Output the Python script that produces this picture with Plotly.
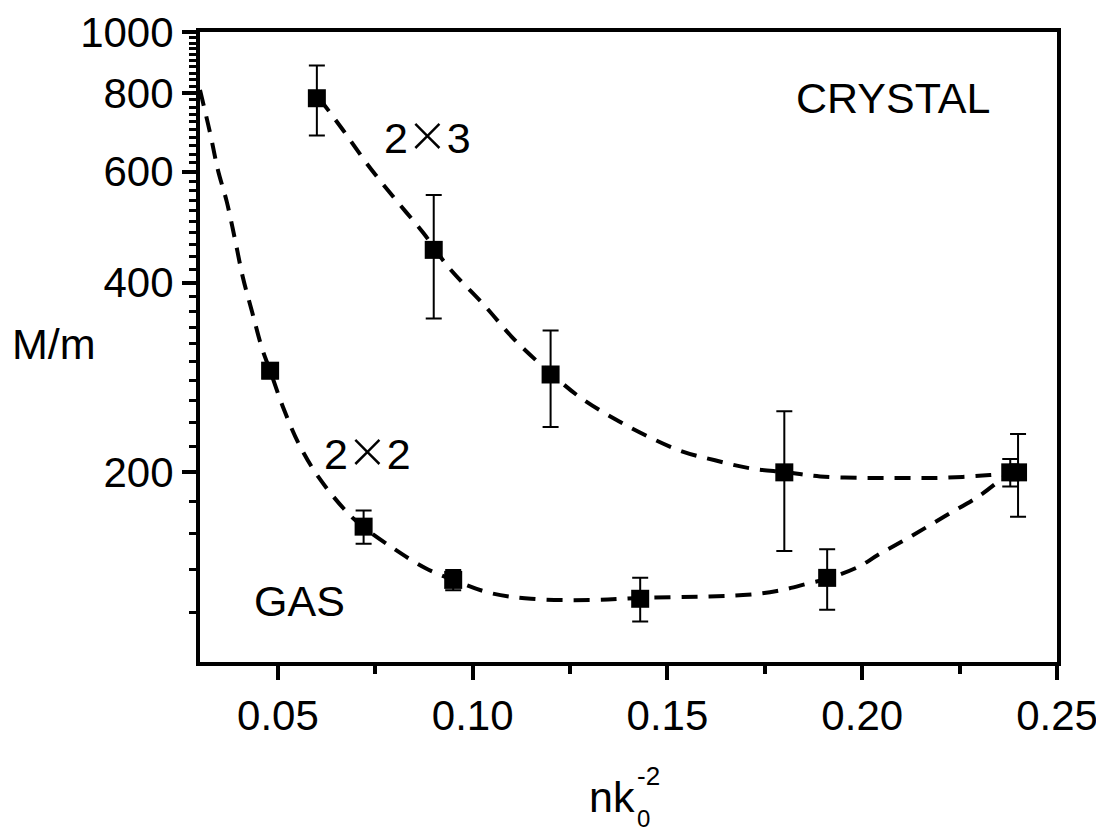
import plotly.graph_objects as go

# ---- data ----
gas_x = [0.048, 0.072, 0.095, 0.143, 0.191, 0.238]
gas_y = [290, 164, 135, 126, 136, 200]
gas_err = [8, 10, 5, 10, 15, 10]

crys_x = [0.06, 0.09, 0.12, 0.18, 0.24]
crys_y = [785, 451, 286, 200, 200]
crys_err = [100, 100, 50, 50, 30]

crys_fit_x = [0.0606, 0.0667, 0.0731, 0.0801, 0.0873, 0.0937, 0.1032, 0.1109, 0.1204,
              0.1276, 0.1365, 0.1450, 0.1537, 0.1622, 0.1712, 0.1807, 0.1892, 0.2000,
              0.2100, 0.2200, 0.2328, 0.2405]
crys_fit_y = [785, 699, 615, 543, 480, 424, 367, 324, 286, 263, 243, 228, 216, 209,
              203, 200, 197, 196, 196, 196, 198, 200]

gas_fit_x = [0.0300, 0.0326, 0.0346, 0.0369, 0.0390, 0.0410, 0.0434, 0.0459, 0.0480,
             0.0513, 0.0552, 0.0603, 0.0677, 0.0718, 0.0793, 0.0878, 0.0957, 0.1045,
             0.1150, 0.1306, 0.1432, 0.1607, 0.1694, 0.1781, 0.1866, 0.1910, 0.1994,
             0.2041, 0.2123, 0.2213, 0.2303, 0.2377]
gas_fit_y = [809, 691, 604, 537, 468, 408, 359, 315, 290, 254, 223, 197, 173, 164,
             152, 141, 134.5, 128.7, 126, 125.4, 126.4, 127.1, 127.7, 129.6, 133.5,
             135.5, 142, 148, 158, 170.5, 184, 200]

y_major = [200, 400, 600, 800, 1000]
y_major_text = ["200", "400", "600", "800", "1000"]
y_minor = [v for v in range(120, 1000, 20) if v not in y_major]
x_major = [0.05, 0.10, 0.15, 0.20, 0.25]
x_major_text = ["0.05", "0.10", "0.15", "0.20", "0.25"]
x_minor = [0.075, 0.125, 0.175, 0.225]

FONT = "Liberation Sans, Arial, sans-serif"
dash = "16px,11px"

fig = go.Figure()
fig.add_trace(go.Scatter(x=gas_fit_x, y=gas_fit_y, mode="lines",
                         line=dict(color="black", width=4, dash=dash, shape="spline"),
                         hoverinfo="skip", showlegend=False))
fig.add_trace(go.Scatter(x=crys_fit_x, y=crys_fit_y, mode="lines",
                         line=dict(color="black", width=4, dash=dash, shape="spline"),
                         hoverinfo="skip", showlegend=False))
fig.add_trace(go.Scatter(x=gas_x, y=gas_y, mode="markers",
                         marker=dict(symbol="square", size=18, color="black"),
                         error_y=dict(type="data", array=gas_err, color="black",
                                      thickness=2, width=8),
                         showlegend=False))
fig.add_trace(go.Scatter(x=crys_x, y=crys_y, mode="markers",
                         marker=dict(symbol="square", size=18, color="black"),
                         error_y=dict(type="data", array=crys_err, color="black",
                                      thickness=2, width=8),
                         showlegend=False))

# page body adds an 8px offset; compensate in the margins
OFF = 8
W, H = 1104, 830
L, R, T, B = 200 - OFF, 47 + OFF, 32 - OFF, 168 + OFF
pw, ph = W - L - R, H - T - B


def px(xp):
    return (xp - OFF - L) / pw


def py(yp):
    return (H - B - (yp - OFF)) / ph


ann = []


def add(text, xp, yp, size):
    ann.append(dict(text=text, x=px(xp), y=py(yp), xref="paper", yref="paper",
                    showarrow=False, xanchor="center", yanchor="middle",
                    font=dict(family=FONT, size=size, color="black")))


CROSS = "<span style='font-family:Inter, Liberation Sans;font-weight:200;font-size:60px'>×</span>"
add("CRYSTAL", 893, 98, 43)
add("2" + CROSS + "3", 427, 131, 43)
add("2" + CROSS + "2", 367, 447, 43)
add("GAS", 299, 601, 43)
add("M/m", 54, 344, 43)
add("nk", 612, 797, 43)
add("-2", 648, 776, 26)
add("0", 643, 818, 24)

fig.update_layout(
    width=W, height=H,
    margin=dict(l=L, r=R, t=T, b=B, autoexpand=False),
    paper_bgcolor="white", plot_bgcolor="white",
    font=dict(family=FONT, size=42, color="black"),
    annotations=ann,
    xaxis=dict(range=[0.03, 0.25], showgrid=False, zeroline=False, automargin=False,
               showline=True, linecolor="black", linewidth=4, mirror=True,
               ticks="outside", ticklen=14, tickwidth=4, tickcolor="black",
               tickmode="array", tickvals=x_major, ticktext=x_major_text,
               tickfont=dict(family=FONT, size=42),
               minor=dict(tickmode="array", tickvals=x_minor, ticks="outside",
                          ticklen=8, tickwidth=4, tickcolor="black", showgrid=False)),
    yaxis=dict(type="log", range=[2, 3], showgrid=False, zeroline=False, automargin=False,
               showline=True, linecolor="black", linewidth=4, mirror=True,
               ticks="outside", ticklen=14, tickwidth=4, tickcolor="black",
               tickmode="array", tickvals=y_major, ticktext=y_major_text,
               tickfont=dict(family=FONT, size=42),
               minor=dict(tickmode="array", tickvals=y_minor, ticks="outside",
                          ticklen=7, tickwidth=3, tickcolor="black", showgrid=False)),
)

fig.write_html("out.html")
